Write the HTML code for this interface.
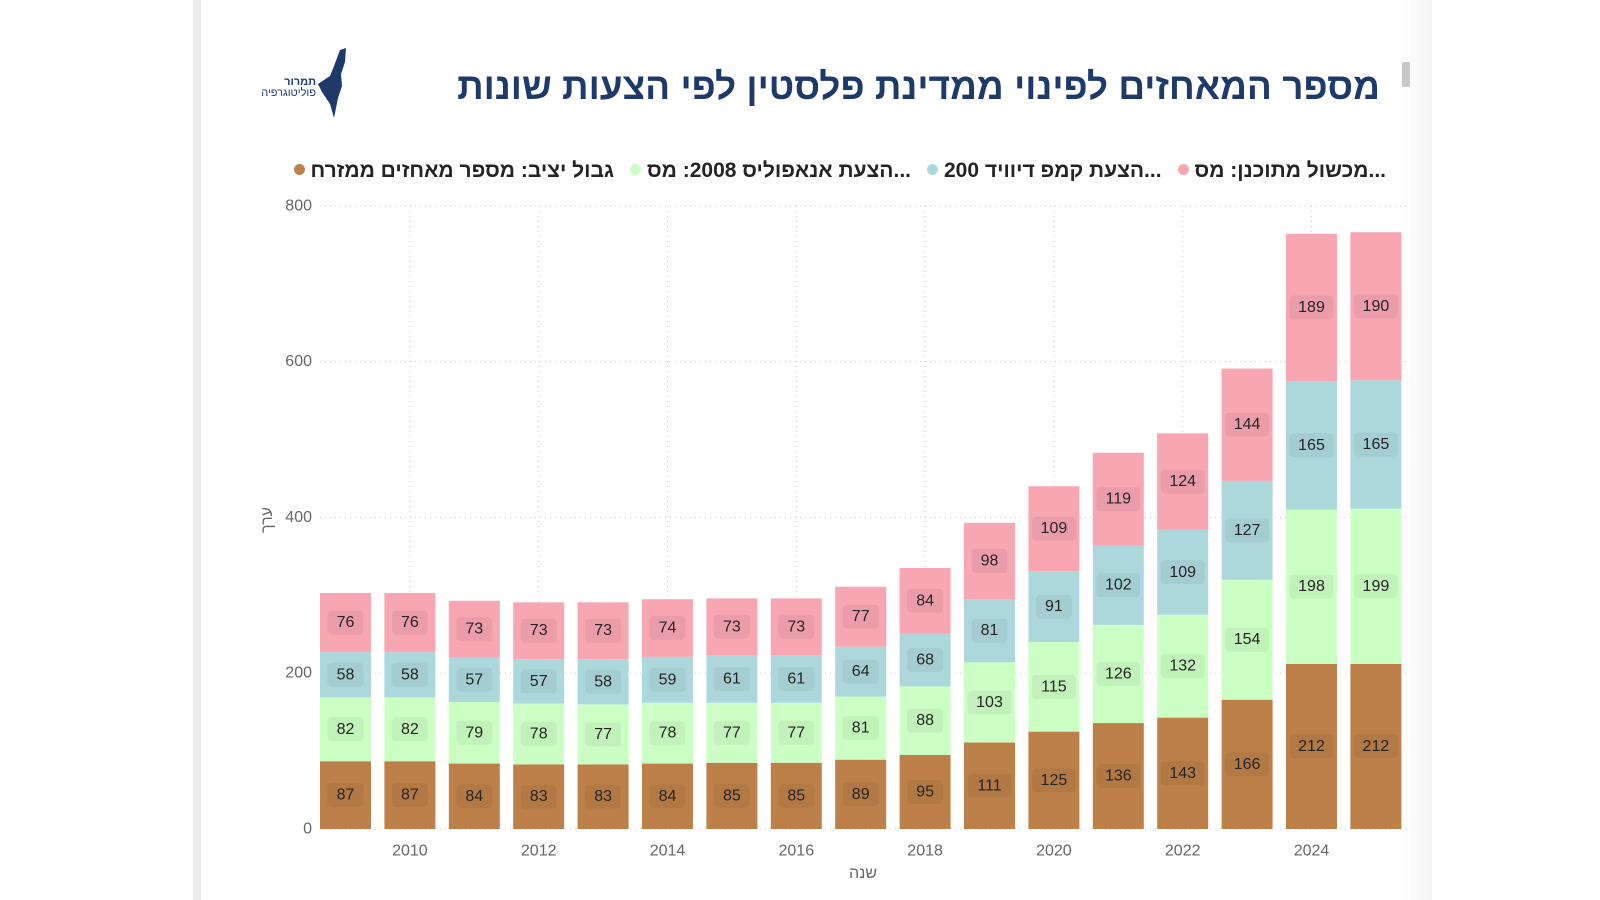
<!DOCTYPE html>
<html><head><meta charset="utf-8"><style>
html,body{margin:0;padding:0;background:#fff;width:1600px;height:900px;overflow:hidden;font-family:"Liberation Sans","DejaVu Sans",sans-serif}
.card{position:absolute;left:201px;top:0;width:1231px;height:900px;background:#fff}
.edge{position:absolute;left:193px;top:0;width:8px;height:900px;background:#ececec}
.rshade{position:absolute;left:1395px;top:0;width:37px;height:900px;background:linear-gradient(to right,#fff,#f5f5f5)}
.title{position:absolute;right:220px;top:66px;font-size:37px;font-weight:bold;color:#1d3a6b;direction:rtl;white-space:nowrap}
.legend{position:absolute;left:250px;top:159px;width:1136px;direction:rtl;text-align:right;font-size:21px;font-weight:bold;color:#252423;white-space:nowrap}
.legend .dot{display:inline-block;width:11px;height:11px;border-radius:50%;margin:0 6px 0 16px;vertical-align:2px}
svg{position:absolute;left:0;top:0}
.b{fill:#bd8049}.g{fill:#ccffc4}.l{fill:#acd8dc}.p{fill:#f7a6b2}
.lb{fill:rgba(0,0,0,0.05)}
.v{font-size:16px;fill:#252423;text-anchor:middle;dominant-baseline:central}
.ax{font-size:16px;fill:#666;font-family:"Liberation Sans",sans-serif}
</style></head><body>
<div class="edge"></div><div class="card"></div><div class="rshade"></div>
<div style="position:absolute;left:1402px;top:62px;width:8px;height:25px;background:#c8c8c8;border-radius:2px"></div>
<div class="title">מספר המאחזים לפינוי ממדינת פלסטין לפי הצעות שונות</div>
<div style="position:absolute;left:250px;top:77px;width:66px;text-align:right;direction:rtl;font-size:11px;line-height:11px;color:#1d3a6b;font-weight:bold">תמרור<br><span style="font-weight:normal">פוליטוגרפיה</span></div>
<svg width="1600" height="900" style="pointer-events:none">
<path d="M340 50 L346 48 L345 62 L341 74 L342 86 L338 98 L334 118 L330 104 L322 92 L318 84 L324 80 L330 76 L334 66 Z" fill="#1d3a6b"/>
</svg>
<div class="legend"><span>...מכשול מתוכנן: מס</span><span class="dot" style="background:#f7a6b2"></span><span>...הצעת קמפ דיוויד 200</span><span class="dot" style="background:#acd8dc"></span><span>...הצעת אנאפוליס 2008: מס</span><span class="dot" style="background:#ccffc4"></span><span>גבול יציב: מספר מאחזים ממזרח</span><span class="dot" style="background:#bd8049;margin-left:0"></span></div>
<svg width="1600" height="900">
<g stroke="#c8c8c8" stroke-width="1" stroke-dasharray="1,4">
<line x1="320" y1="206" x2="1410" y2="206"/><line x1="320" y1="361.6" x2="1410" y2="361.6"/><line x1="320" y1="517.4" x2="1410" y2="517.4"/><line x1="320" y1="673.2" x2="1410" y2="673.2"/><line x1="320" y1="829" x2="1410" y2="829"/>
<line x1="409.9" y1="206" x2="409.9" y2="829"/><line x1="538.7" y1="206" x2="538.7" y2="829"/><line x1="667.5" y1="206" x2="667.5" y2="829"/><line x1="796.3" y1="206" x2="796.3" y2="829"/><line x1="925.1" y1="206" x2="925.1" y2="829"/><line x1="1053.9" y1="206" x2="1053.9" y2="829"/><line x1="1182.7" y1="206" x2="1182.7" y2="829"/><line x1="1311.5" y1="206" x2="1311.5" y2="829"/>
</g>
<g class="ax" text-anchor="end" dominant-baseline="central">
<text x="312" y="206">800</text><text x="312" y="361.6">600</text><text x="312" y="517.4">400</text><text x="312" y="673.2">200</text><text x="312" y="829">0</text>
</g>
<g class="ax" font-size="17" text-anchor="middle" dominant-baseline="central">
<text x="409.9" y="851">2010</text><text x="538.7" y="851">2012</text><text x="667.5" y="851">2014</text><text x="796.3" y="851">2016</text><text x="925.1" y="851">2018</text><text x="1053.9" y="851">2020</text><text x="1182.7" y="851">2022</text><text x="1311.5" y="851">2024</text>
</g>
<text class="ax" x="863" y="878" font-size="14" text-anchor="middle" fill="#444" direction="rtl">שנה</text>
<text class="ax" x="0" y="0" font-size="14" text-anchor="middle" fill="#444" transform="translate(272,520) rotate(-90)">ערך</text>

<g transform="translate(345.5,0)"><g transform="translate(0,829) scale(1,-0.779)"><rect class="b" x="-25.5" y="0" width="51" height="87"/><rect class="g" x="-25.5" y="87" width="51" height="82"/><rect class="l" x="-25.5" y="169" width="51" height="58"/><rect class="p" x="-25.5" y="227" width="51" height="76"/></g>
<rect class="lb" x="-18" y="783.1" width="36" height="24" rx="4"/><text class="v" y="795.1">87</text><rect class="lb" x="-18" y="717.3" width="36" height="24" rx="4"/><text class="v" y="729.3">82</text><rect class="lb" x="-18" y="662.8" width="36" height="24" rx="4"/><text class="v" y="674.8">58</text><rect class="lb" x="-18" y="610.6" width="36" height="24" rx="4"/><text class="v" y="622.6">76</text></g>

<g transform="translate(409.9,0)"><g transform="translate(0,829) scale(1,-0.779)"><rect class="b" x="-25.5" y="0" width="51" height="87"/><rect class="g" x="-25.5" y="87" width="51" height="82"/><rect class="l" x="-25.5" y="169" width="51" height="58"/><rect class="p" x="-25.5" y="227" width="51" height="76"/></g>
<rect class="lb" x="-18" y="783.1" width="36" height="24" rx="4"/><text class="v" y="795.1">87</text><rect class="lb" x="-18" y="717.3" width="36" height="24" rx="4"/><text class="v" y="729.3">82</text><rect class="lb" x="-18" y="662.8" width="36" height="24" rx="4"/><text class="v" y="674.8">58</text><rect class="lb" x="-18" y="610.6" width="36" height="24" rx="4"/><text class="v" y="622.6">76</text></g>

<g transform="translate(474.3,0)"><g transform="translate(0,829) scale(1,-0.779)"><rect class="b" x="-25.5" y="0" width="51" height="84"/><rect class="g" x="-25.5" y="84" width="51" height="79"/><rect class="l" x="-25.5" y="163" width="51" height="57"/><rect class="p" x="-25.5" y="220" width="51" height="73"/></g>
<rect class="lb" x="-18" y="784.3" width="36" height="24" rx="4"/><text class="v" y="796.3">84</text><rect class="lb" x="-18" y="720.8" width="36" height="24" rx="4"/><text class="v" y="732.8">79</text><rect class="lb" x="-18" y="667.8" width="36" height="24" rx="4"/><text class="v" y="679.8">57</text><rect class="lb" x="-18" y="617.2" width="36" height="24" rx="4"/><text class="v" y="629.2">73</text></g>

<g transform="translate(538.7,0)"><g transform="translate(0,829) scale(1,-0.779)"><rect class="b" x="-25.5" y="0" width="51" height="83"/><rect class="g" x="-25.5" y="83" width="51" height="78"/><rect class="l" x="-25.5" y="161" width="51" height="57"/><rect class="p" x="-25.5" y="218" width="51" height="73"/></g>
<rect class="lb" x="-18" y="784.7" width="36" height="24" rx="4"/><text class="v" y="796.7">83</text><rect class="lb" x="-18" y="722" width="36" height="24" rx="4"/><text class="v" y="734">78</text><rect class="lb" x="-18" y="669.4" width="36" height="24" rx="4"/><text class="v" y="681.4">57</text><rect class="lb" x="-18" y="618.7" width="36" height="24" rx="4"/><text class="v" y="630.7">73</text></g>

<g transform="translate(603.1,0)"><g transform="translate(0,829) scale(1,-0.779)"><rect class="b" x="-25.5" y="0" width="51" height="83"/><rect class="g" x="-25.5" y="83" width="51" height="77"/><rect class="l" x="-25.5" y="160" width="51" height="58"/><rect class="p" x="-25.5" y="218" width="51" height="73"/></g>
<rect class="lb" x="-18" y="784.7" width="36" height="24" rx="4"/><text class="v" y="796.7">83</text><rect class="lb" x="-18" y="722.4" width="36" height="24" rx="4"/><text class="v" y="734.4">77</text><rect class="lb" x="-18" y="669.8" width="36" height="24" rx="4"/><text class="v" y="681.8">58</text><rect class="lb" x="-18" y="618.7" width="36" height="24" rx="4"/><text class="v" y="630.7">73</text></g>

<g transform="translate(667.5,0)"><g transform="translate(0,829) scale(1,-0.779)"><rect class="b" x="-25.5" y="0" width="51" height="84"/><rect class="g" x="-25.5" y="84" width="51" height="78"/><rect class="l" x="-25.5" y="162" width="51" height="59"/><rect class="p" x="-25.5" y="221" width="51" height="74"/></g>
<rect class="lb" x="-18" y="784.3" width="36" height="24" rx="4"/><text class="v" y="796.3">84</text><rect class="lb" x="-18" y="721.2" width="36" height="24" rx="4"/><text class="v" y="733.2">78</text><rect class="lb" x="-18" y="667.8" width="36" height="24" rx="4"/><text class="v" y="679.8">59</text><rect class="lb" x="-18" y="616" width="36" height="24" rx="4"/><text class="v" y="628">74</text></g>

<g transform="translate(731.9,0)"><g transform="translate(0,829) scale(1,-0.779)"><rect class="b" x="-25.5" y="0" width="51" height="85"/><rect class="g" x="-25.5" y="85" width="51" height="77"/><rect class="l" x="-25.5" y="162" width="51" height="61"/><rect class="p" x="-25.5" y="223" width="51" height="73"/></g>
<rect class="lb" x="-18" y="783.9" width="36" height="24" rx="4"/><text class="v" y="795.9">85</text><rect class="lb" x="-18" y="720.8" width="36" height="24" rx="4"/><text class="v" y="732.8">77</text><rect class="lb" x="-18" y="667" width="36" height="24" rx="4"/><text class="v" y="679">61</text><rect class="lb" x="-18" y="614.8" width="36" height="24" rx="4"/><text class="v" y="626.8">73</text></g>

<g transform="translate(796.3,0)"><g transform="translate(0,829) scale(1,-0.779)"><rect class="b" x="-25.5" y="0" width="51" height="85"/><rect class="g" x="-25.5" y="85" width="51" height="77"/><rect class="l" x="-25.5" y="162" width="51" height="61"/><rect class="p" x="-25.5" y="223" width="51" height="73"/></g>
<rect class="lb" x="-18" y="783.9" width="36" height="24" rx="4"/><text class="v" y="795.9">85</text><rect class="lb" x="-18" y="720.8" width="36" height="24" rx="4"/><text class="v" y="732.8">77</text><rect class="lb" x="-18" y="667" width="36" height="24" rx="4"/><text class="v" y="679">61</text><rect class="lb" x="-18" y="614.8" width="36" height="24" rx="4"/><text class="v" y="626.8">73</text></g>

<g transform="translate(860.7,0)"><g transform="translate(0,829) scale(1,-0.779)"><rect class="b" x="-25.5" y="0" width="51" height="89"/><rect class="g" x="-25.5" y="89" width="51" height="81"/><rect class="l" x="-25.5" y="170" width="51" height="64"/><rect class="p" x="-25.5" y="234" width="51" height="77"/></g>
<rect class="lb" x="-18" y="782.3" width="36" height="24" rx="4"/><text class="v" y="794.3">89</text><rect class="lb" x="-18" y="716.1" width="36" height="24" rx="4"/><text class="v" y="728.1">81</text><rect class="lb" x="-18" y="659.6" width="36" height="24" rx="4"/><text class="v" y="671.6">64</text><rect class="lb" x="-18" y="604.7" width="36" height="24" rx="4"/><text class="v" y="616.7">77</text></g>

<g transform="translate(925.1,0)"><g transform="translate(0,829) scale(1,-0.779)"><rect class="b" x="-25.5" y="0" width="51" height="95"/><rect class="g" x="-25.5" y="95" width="51" height="88"/><rect class="l" x="-25.5" y="183" width="51" height="68"/><rect class="p" x="-25.5" y="251" width="51" height="84"/></g>
<rect class="lb" x="-18" y="780" width="36" height="24" rx="4"/><text class="v" y="792">95</text><rect class="lb" x="-18" y="708.7" width="36" height="24" rx="4"/><text class="v" y="720.7">88</text><rect class="lb" x="-18" y="648" width="36" height="24" rx="4"/><text class="v" y="660">68</text><rect class="lb" x="-18" y="588.8" width="36" height="24" rx="4"/><text class="v" y="600.8">84</text></g>

<g transform="translate(989.5,0)"><g transform="translate(0,829) scale(1,-0.779)"><rect class="b" x="-25.5" y="0" width="51" height="111"/><rect class="g" x="-25.5" y="111" width="51" height="103"/><rect class="l" x="-25.5" y="214" width="51" height="81"/><rect class="p" x="-25.5" y="295" width="51" height="98"/></g>
<rect class="lb" x="-22" y="773.8" width="44" height="24" rx="4"/><text class="v" y="785.8">111</text><rect class="lb" x="-22" y="690.4" width="44" height="24" rx="4"/><text class="v" y="702.4">103</text><rect class="lb" x="-18" y="618.7" width="36" height="24" rx="4"/><text class="v" y="630.7">81</text><rect class="lb" x="-18" y="549" width="36" height="24" rx="4"/><text class="v" y="561">98</text></g>

<g transform="translate(1053.9,0)"><g transform="translate(0,829) scale(1,-0.779)"><rect class="b" x="-25.5" y="0" width="51" height="125"/><rect class="g" x="-25.5" y="125" width="51" height="115"/><rect class="l" x="-25.5" y="240" width="51" height="91"/><rect class="p" x="-25.5" y="331" width="51" height="109"/></g>
<rect class="lb" x="-22" y="768.3" width="44" height="24" rx="4"/><text class="v" y="780.3">125</text><rect class="lb" x="-22" y="674.8" width="44" height="24" rx="4"/><text class="v" y="686.8">115</text><rect class="lb" x="-18" y="594.6" width="36" height="24" rx="4"/><text class="v" y="606.6">91</text><rect class="lb" x="-22" y="516.7" width="44" height="24" rx="4"/><text class="v" y="528.7">109</text></g>

<g transform="translate(1118.3,0)"><g transform="translate(0,829) scale(1,-0.779)"><rect class="b" x="-25.5" y="0" width="51" height="136"/><rect class="g" x="-25.5" y="136" width="51" height="126"/><rect class="l" x="-25.5" y="262" width="51" height="102"/><rect class="p" x="-25.5" y="364" width="51" height="119"/></g>
<rect class="lb" x="-22" y="764" width="44" height="24" rx="4"/><text class="v" y="776">136</text><rect class="lb" x="-22" y="662" width="44" height="24" rx="4"/><text class="v" y="674">126</text><rect class="lb" x="-22" y="573.2" width="44" height="24" rx="4"/><text class="v" y="585.2">102</text><rect class="lb" x="-22" y="487.1" width="44" height="24" rx="4"/><text class="v" y="499.1">119</text></g>

<g transform="translate(1182.7,0)"><g transform="translate(0,829) scale(1,-0.779)"><rect class="b" x="-25.5" y="0" width="51" height="143"/><rect class="g" x="-25.5" y="143" width="51" height="132"/><rect class="l" x="-25.5" y="275" width="51" height="109"/><rect class="p" x="-25.5" y="384" width="51" height="124"/></g>
<rect class="lb" x="-22" y="761.3" width="44" height="24" rx="4"/><text class="v" y="773.3">143</text><rect class="lb" x="-22" y="654.2" width="44" height="24" rx="4"/><text class="v" y="666.2">132</text><rect class="lb" x="-22" y="560.3" width="44" height="24" rx="4"/><text class="v" y="572.3">109</text><rect class="lb" x="-22" y="469.6" width="44" height="24" rx="4"/><text class="v" y="481.6">124</text></g>

<g transform="translate(1247.1,0)"><g transform="translate(0,829) scale(1,-0.779)"><rect class="b" x="-25.5" y="0" width="51" height="166"/><rect class="g" x="-25.5" y="166" width="51" height="154"/><rect class="l" x="-25.5" y="320" width="51" height="127"/><rect class="p" x="-25.5" y="447" width="51" height="144"/></g>
<rect class="lb" x="-22" y="752.3" width="44" height="24" rx="4"/><text class="v" y="764.3">166</text><rect class="lb" x="-22" y="627.7" width="44" height="24" rx="4"/><text class="v" y="639.7">154</text><rect class="lb" x="-22" y="518.3" width="44" height="24" rx="4"/><text class="v" y="530.3">127</text><rect class="lb" x="-22" y="412.7" width="44" height="24" rx="4"/><text class="v" y="424.7">144</text></g>

<g transform="translate(1311.5,0)"><g transform="translate(0,829) scale(1,-0.779)"><rect class="b" x="-25.5" y="0" width="51" height="212"/><rect class="g" x="-25.5" y="212" width="51" height="198"/><rect class="l" x="-25.5" y="410" width="51" height="165"/><rect class="p" x="-25.5" y="575" width="51" height="189"/></g>
<rect class="lb" x="-22" y="734.4" width="44" height="24" rx="4"/><text class="v" y="746.4">212</text><rect class="lb" x="-22" y="574.7" width="44" height="24" rx="4"/><text class="v" y="586.7">198</text><rect class="lb" x="-22" y="433.3" width="44" height="24" rx="4"/><text class="v" y="445.3">165</text><rect class="lb" x="-22" y="295.5" width="44" height="24" rx="4"/><text class="v" y="307.5">189</text></g>

<g transform="translate(1375.9,0)"><g transform="translate(0,829) scale(1,-0.779)"><rect class="b" x="-25.5" y="0" width="51" height="212"/><rect class="g" x="-25.5" y="212" width="51" height="199"/><rect class="l" x="-25.5" y="411" width="51" height="165"/><rect class="p" x="-25.5" y="576" width="51" height="190"/></g>
<rect class="lb" x="-22" y="734.4" width="44" height="24" rx="4"/><text class="v" y="746.4">212</text><rect class="lb" x="-22" y="574.3" width="44" height="24" rx="4"/><text class="v" y="586.3">199</text><rect class="lb" x="-22" y="432.6" width="44" height="24" rx="4"/><text class="v" y="444.6">165</text><rect class="lb" x="-22" y="294.3" width="44" height="24" rx="4"/><text class="v" y="306.3">190</text></g>
</svg>
</body></html>
